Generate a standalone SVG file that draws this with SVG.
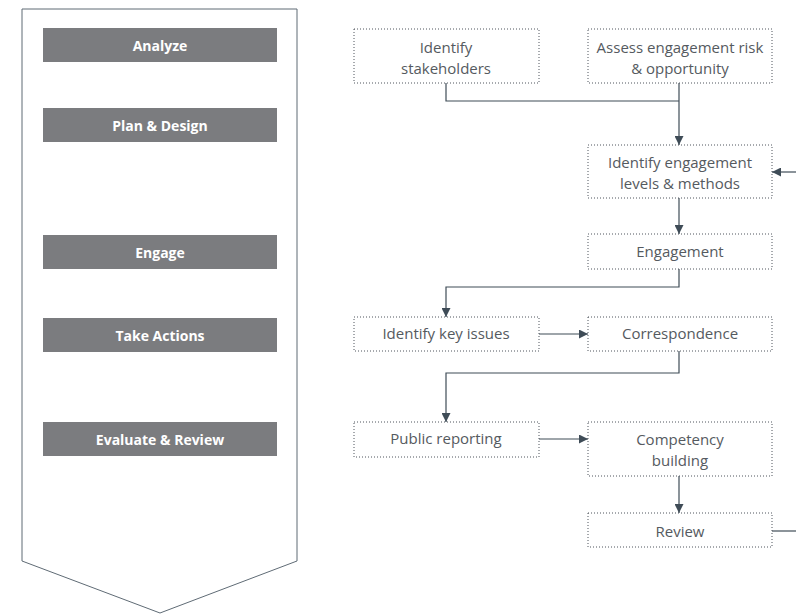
<svg xmlns="http://www.w3.org/2000/svg" width="796" height="614" viewBox="0 0 796 614">
  <style>
    .stage rect { fill: #7b7c7f; }
    .stage text { font-family: "Open Sans", "Liberation Sans", sans-serif; font-size: 14px; font-weight: bold; fill: #ffffff; text-anchor: middle; }
    .box rect { fill: none; stroke: #4e555c; stroke-width: 1; stroke-dasharray: 1 2; }
    .box text { font-family: "Open Sans", "Liberation Sans", sans-serif; font-size: 15px; fill: #555a60; text-anchor: middle; }
    .conn path { fill: none; stroke: #3f4c57; stroke-width: 1.2; }
  </style>
  <defs>
    <marker id="arrow" viewBox="0 0 10 10" refX="10" refY="5" markerWidth="9" markerHeight="9" markerUnits="userSpaceOnUse" orient="auto">
      <path d="M0,0 L10,5 L0,10 Z" fill="#3f4c57"/>
    </marker>
  </defs>
  <rect width="796" height="614" fill="#ffffff"/>

  <!-- process stages column -->
  <g id="stages">
    <path d="M22,9 H297 V561 L160,613 L22,561 Z" fill="#ffffff" stroke="#5f6b75" stroke-width="1"/>
    <g id="stage-analyze" class="stage"><rect x="43" y="28" width="234" height="34"/><text x="160" y="51">Analyze</text></g>
    <g id="stage-plan" class="stage"><rect x="43" y="108" width="234" height="34"/><text x="160" y="131">Plan &amp; Design</text></g>
    <g id="stage-engage" class="stage"><rect x="43" y="235" width="234" height="34"/><text x="160" y="258">Engage</text></g>
    <g id="stage-actions" class="stage"><rect x="43" y="318" width="234" height="34"/><text x="160" y="341">Take Actions</text></g>
    <g id="stage-evaluate" class="stage"><rect x="43" y="422" width="234" height="34"/><text x="160" y="445">Evaluate &amp; Review</text></g>
  </g>

  <!-- connectors -->
  <g id="connectors" class="conn">
    <path d="M446,83 V101 H679"/>
    <path d="M679,83 V145" marker-end="url(#arrow)"/>
    <path d="M796,172 H772" marker-end="url(#arrow)"/>
    <path d="M679,198 V234" marker-end="url(#arrow)"/>
    <path d="M679,269 V287 H446 V317" marker-end="url(#arrow)"/>
    <path d="M539,334 H588" marker-end="url(#arrow)"/>
    <path d="M679,351 V373 H446 V422" marker-end="url(#arrow)"/>
    <path d="M539,439 H588" marker-end="url(#arrow)"/>
    <path d="M679,476 V513" marker-end="url(#arrow)"/>
    <path d="M772,531 H796" stroke="#6b7780"/>
  </g>

  <!-- activity nodes -->
  <g id="identify-stakeholders" class="box"><rect x="354" y="29" width="185" height="54"/><text x="446" y="53">Identify</text><text x="446" y="74">stakeholders</text></g>
  <g id="assess-risk" class="box"><rect x="588" y="29" width="184" height="54"/><text x="680" y="53">Assess engagement risk</text><text x="680" y="74">&amp; opportunity</text></g>
  <g id="identify-levels" class="box"><rect x="588" y="145" width="184" height="53"/><text x="680" y="168">Identify engagement</text><text x="680" y="189">levels &amp; methods</text></g>
  <g id="engagement" class="box"><rect x="588" y="234" width="184" height="35"/><text x="680" y="257">Engagement</text></g>
  <g id="key-issues" class="box"><rect x="354" y="317" width="185" height="34"/><text x="446" y="339">Identify key issues</text></g>
  <g id="correspondence" class="box"><rect x="588" y="317" width="184" height="34"/><text x="680" y="339">Correspondence</text></g>
  <g id="public-reporting" class="box"><rect x="354" y="422" width="185" height="35"/><text x="446" y="444">Public reporting</text></g>
  <g id="competency" class="box"><rect x="588" y="422" width="184" height="54"/><text x="680" y="445">Competency</text><text x="680" y="466">building</text></g>
  <g id="review" class="box"><rect x="588" y="513" width="184" height="34"/><text x="680" y="537">Review</text></g>
</svg>
